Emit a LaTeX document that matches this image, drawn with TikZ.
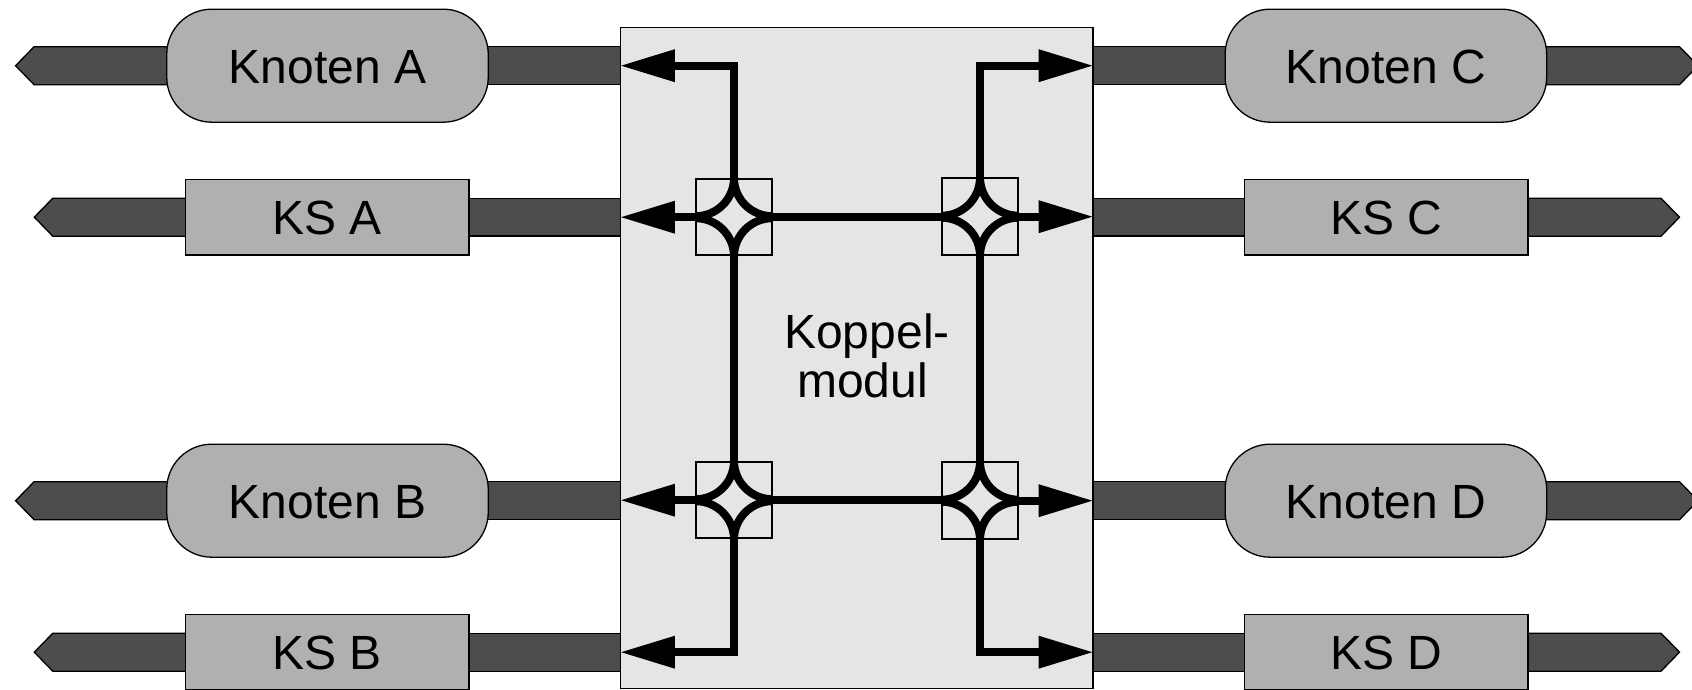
\documentclass[tikz,border=0pt]{standalone}
\usepackage{fontspec}
\setmainfont{Liberation Sans}
\usetikzlibrary{arrows.meta,backgrounds,calc}
\definecolor{railc}{HTML}{4D4D4D}
\definecolor{nodec}{HTML}{B0B0B0}
\definecolor{mainc}{HTML}{E5E5E5}
\tikzset{
  x=1pt,y=1pt,
  thinline/.style={draw=black,line width=1.3pt},
  label text/.style={font=\fontsize{48}{48.6}\selectfont,text=black,inner sep=0pt,align=center},
  knoten/.style={thinline,fill=nodec,rounded corners=45pt,minimum width=321.5pt,minimum height=113pt,label text,text height=36pt},
  ks/.style={thinline,fill=nodec,minimum width=283.5pt,minimum height=75.5pt,label text,text height=35.6pt},
  koppel/.style={thinline,fill=mainc,minimum width=472.5pt,minimum height=661.2pt,inner sep=0pt},
  switchbox/.style={draw=black,line width=2pt,minimum width=76.5pt,minimum height=76.5pt,inner sep=0pt},
  rail/.style={line width=1.3pt,draw=black,double=railc,double distance=36.6pt},
  railhead/.style={thinline,fill=railc,line join=miter},
  bus/.style={draw=black,line width=8pt,line join=miter},
  busarrow/.style={bus,-{Triangle[length=55pt,width=30.5pt]}},
}
\newcommand{\leftstub}[2]{%
  \coordinate (#1tip) at (#2,0 |- #1.center);
  \filldraw[railhead] ([yshift=19pt]#1.center) -- ([xshift=18.5pt,yshift=19pt]#1tip) -- (#1tip) -- ([xshift=18.5pt,yshift=-19pt]#1tip) -- ([yshift=-19pt]#1.center) -- cycle;}
\newcommand{\rightstub}[2]{%
  \coordinate (#1tip) at (#2,0 |- #1.center);
  \filldraw[railhead] ([yshift=19pt]#1.center) -- ([xshift=-18.5pt,yshift=19pt]#1tip) -- (#1tip) -- ([xshift=-18.5pt,yshift=-19pt]#1tip) -- ([yshift=-19pt]#1.center) -- cycle;}
\newcommand{\crossing}[1]{%
  \draw[bus] (#1.north) arc[start angle=0,end angle=-90,radius=38.25pt];
  \draw[bus] (#1.north) arc[start angle=180,end angle=270,radius=38.25pt];
  \draw[bus] (#1.south) arc[start angle=0,end angle=90,radius=38.25pt];
  \draw[bus] (#1.south) arc[start angle=180,end angle=90,radius=38.25pt];}
\begin{document}
\begin{tikzpicture}
\useasboundingbox (0,0) rectangle (1692,689);
\node[koppel] (main) at (856.75,330.8) {};
\node[label text] (mainlabel) at (867,333) {Koppel-\\modul\kern9pt};
% left column
\node[knoten] (ka) at (327.5,623.3) {Knoten A};
\node[ks] (ksa) at (327.3,471.8) {KS A};
\node[knoten] (kb) at (327.5,188.3) {Knoten B};
\node[ks] (ksb) at (327.3,36.8) {KS B};
% right column
\node[knoten] (kc) at (1385.9,623.3) {Knoten C};
\node[ks] (ksc) at (1386.2,471.8) {KS C};
\node[knoten] (kd) at (1385.9,188.3) {Knoten D};
\node[ks] (ksd) at (1386.2,36.8) {KS D};
% rails behind the nodes
\begin{pgfonlayer}{background}
  \foreach \n in {ka,kb} {\leftstub{\n}{15.6}\draw[rail] (\n.center) -- (main.west |- \n.center);}
  \foreach \n in {ksa,ksb} {\leftstub{\n}{34.3}\draw[rail] (\n.center) -- (main.west |- \n.center);}
  \foreach \n in {kc,kd} {\rightstub{\n}{1698}\draw[rail] (\n.center) -- (main.east |- \n.center);}
  \foreach \n in {ksc,ksd} {\rightstub{\n}{1679.5}\draw[rail] (\n.center) -- (main.east |- \n.center);}
\end{pgfonlayer}
% switches
\node[switchbox] (s1) at (734,471.8) {};
\node[switchbox] (s2) at (980,472.3) {};
\node[switchbox] (s3) at (734,188.8) {};
\node[switchbox] (s4) at (980,188.3) {};
\crossing{s1}\crossing{s2}\crossing{s3}\crossing{s4}
% buses
\draw[bus] (s1.south) -- (s3.north);
\draw[bus] (s2.south) -- (s4.north);
\draw[bus] (s1.east) -- (s2.west |- s1.east);
\draw[bus] (s3.east) -- (s4.west |- s3.east);
\draw[busarrow] (s1.north) |- (main.west |- ka.center);
\draw[busarrow] (s1.west) -- (main.west |- s1.west);
\draw[busarrow] (s3.west) -- (main.west |- s3.west);
\draw[busarrow] (s3.south) |- (main.west |- ksb.center);
\draw[busarrow] (s2.north) |- (main.east |- kc.center);
\draw[busarrow] (s2.east) -- (main.east |- s2.east);
\draw[busarrow] (s4.east) -- (main.east |- s4.east);
\draw[busarrow] (s4.south) |- (main.east |- ksd.center);
\end{tikzpicture}
\end{document}
